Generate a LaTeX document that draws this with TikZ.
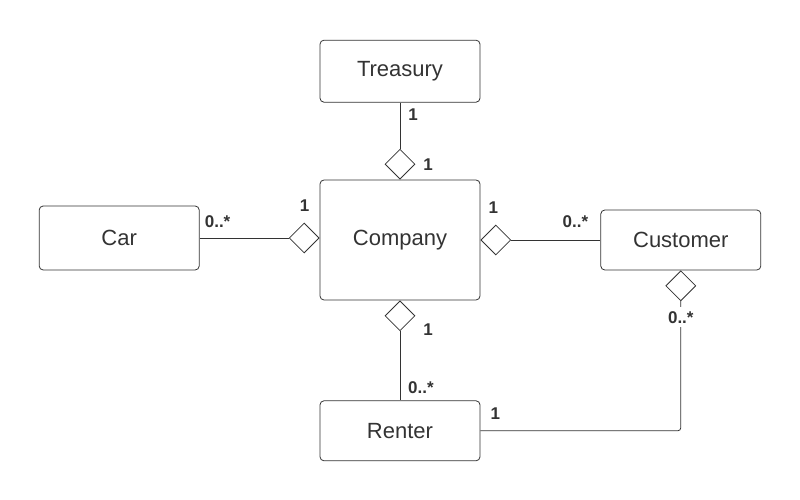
\documentclass[tikz,border=0pt]{standalone}
\usepackage{fontspec}
\setmainfont{Liberation Sans}
\usepackage{xcolor}
\usepackage{tikz}
\usetikzlibrary{shapes.geometric,positioning}
\definecolor{inkgray}{HTML}{333333}

\begin{document}
\begin{tikzpicture}[
  font=\fontsize{22}{26}\selectfont, line width=0.8pt,
  cls/.style={rectangle, rounded corners=4pt, draw=inkgray, text=inkgray, minimum width=160pt, minimum height=62pt, inner sep=0pt},
  agg/.style={diamond, draw=inkgray, fill=white, minimum width=30pt, minimum height=30pt, inner sep=0pt},
  mult/.style={font=\fontsize{17}{19}\selectfont\bfseries, text=inkgray, inner sep=1pt},
  assoc/.style={draw=inkgray}
]
\useasboundingbox (0,0) rectangle (800pt,500pt);
\node[cls, minimum height=120pt] (company) at (400pt,260pt) {Company};
\node[cls, above=77pt of company] (treasury) {Treasury};
\node[cls, left=120pt of company, yshift=2pt, minimum height=64pt] (car) {Car};
\node[cls, right=120pt of company, minimum height=60pt] (customer) {Customer};
\node[cls, below=100pt of company, minimum height=60pt] (renter) {Renter};
\node[agg, above=0pt of company] (aggtre) {};
\node[agg, left=0pt of company, yshift=2pt] (aggcar) {};
\node[agg, right=0pt of company] (aggcus) {};
\node[agg, below=0pt of company] (aggren) {};
\node[agg, below=0pt of customer] (aggcr) {};
\draw[assoc] (treasury) -- (aggtre);
\draw[assoc] (car) -- (aggcar);
\draw[assoc] (aggcus) -- (customer);
\draw[assoc] (aggren) -- (renter);
\draw[assoc, rounded corners=3pt] (renter) -| (aggcr);
% multiplicities
\node[mult] (mtre) at ([xshift=13pt,yshift=-12pt]treasury.south) {1};
\node[mult] (mcom1) at ([xshift=28pt,yshift=15pt]company.north) {1};
\node[mult] (mcar) at ([xshift=18pt,yshift=16pt]car.east) {0..*};
\node[mult] (mcom2) at ([xshift=-15pt,yshift=34pt]company.west) {1};
\node[mult] (mcom3) at ([xshift=13pt,yshift=32pt]company.east) {1};
\node[mult] (mcus) at ([xshift=-25pt,yshift=18pt]customer.west) {0..*};
\node[mult, fill=white, inner sep=4pt] (mcr) at ([yshift=-16pt]aggcr.south) {0..*};
\node[mult] (mcom4) at ([xshift=28pt,yshift=-29pt]company.south) {1};
\node[mult] (mren1) at ([xshift=21pt,yshift=13pt]renter.north) {0..*};
\node[mult] (mren2) at ([xshift=15pt,yshift=17pt]renter.east) {1};
\end{tikzpicture}
\end{document}
